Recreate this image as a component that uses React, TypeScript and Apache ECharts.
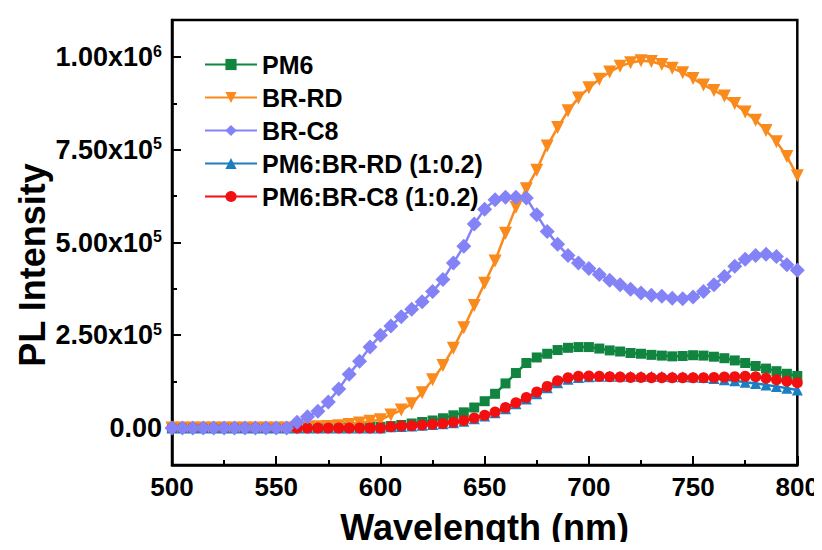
import React, { useEffect, useRef } from "react";
import * as echarts from "echarts";

const wavelengths = [
  500, 505, 510, 515, 520, 525, 530, 535, 540, 545,
  550, 555, 560, 565, 570, 575, 580, 585, 590, 595,
  600, 605, 610, 615, 620, 625, 630, 635, 640, 645,
  650, 655, 660, 665, 670, 675, 680, 685, 690, 695,
  700, 705, 710, 715, 720, 725, 730, 735, 740, 745,
  750, 755, 760, 765, 770, 775, 780, 785, 790, 795, 800,
];

// intensities in thousands of counts
const pm6 = [
  0, 0, 0, 0, 0, 0, 0, 0, 0, 0,
  0, 0, 0, 0, 1, 1, 1, 2, 2, 3,
  3, 5, 8, 12, 16, 20, 26, 34, 42, 55,
  72, 92, 120, 148, 175, 190, 200, 210, 216, 218,
  218, 214, 209, 206, 202, 200, 197, 195, 193, 194,
  196, 195, 192, 188, 182, 175, 167, 160, 153, 146, 140,
];
const brRD = [
  0, 0, 0, 0, 0, 0, 0, 0, 0, 0,
  0, 0, 0, 2, 3, 4, 6, 9, 13, 18,
  22, 35, 48, 65, 95, 130, 168, 215, 270, 330,
  390, 450, 525, 595, 645, 695, 760, 810, 855, 890,
  917, 940, 960, 975, 985, 990, 988, 980, 970, 958,
  942, 925, 910, 895, 875, 852, 830, 802, 772, 732, 680,
];
const brC8 = [
  0, 0, 0, 0, 0, 0, 0, 0, 0, 0,
  0, 0, 15, 30, 45, 70, 105, 145, 180, 218,
  250, 275, 300, 320, 340, 368, 400, 445, 490, 550,
  590, 615, 622, 622, 620, 575, 530, 495, 465, 445,
  430, 414, 398, 386, 374, 364, 358, 355, 350, 348,
  353, 368, 386, 408, 436, 455, 465, 468, 462, 440, 425,
];
const blendRD = [
  0, 0, 0, 0, 0, 0, 0, 0, 0, 0,
  0, 0, 0, 0, 0, 0, 0, 0, 0, 0,
  0, 3, 4, 5, 7, 9, 11, 14, 18, 25,
  32, 41, 52, 65, 78, 92, 108, 122, 131, 136,
  138, 139, 139, 139, 139, 139, 139, 139, 138, 138,
  137, 136, 133, 130, 127, 123, 120, 116, 112, 107, 102,
];
const blendC8 = [
  0, 0, 0, 0, 0, 0, 0, 0, 0, 0,
  0, 0, 0, 0, 0, 0, 0, 0, 0, 0,
  0, 3, 5, 6, 8, 10, 12, 15, 20, 27,
  34, 43, 55, 68, 82, 97, 112, 127, 135, 139,
  140, 139, 138, 137, 136, 136, 135, 135, 135, 135,
  135, 135, 136, 137, 138, 139, 138, 134, 130, 126, 122,
];

const yLabelValues = [0, 250000, 500000, 750000, 1000000];
const yMinorTicks = [125000, 375000, 625000, 875000];

const FONT = "Arial, 'Liberation Sans', Helvetica, sans-serif";

function pairs(vals: number[]) {
  return wavelengths.map((w, i) => [w, vals[i] * 1000]);
}

function yFormatter(v: number) {
  if (v === 0) return "0.00";
  const exp = Math.floor(Math.log10(v) + 1e-9);
  const m = v / Math.pow(10, exp);
  return m.toFixed(2) + "x10{sup|" + exp + "}";
}

export default function App() {
  const ref = useRef<HTMLDivElement>(null);
  useEffect(() => {
    if (!ref.current) return;
    const chart = echarts.init(ref.current, null, { renderer: "svg" });
    const mk = (name: string, data: number[], color: string, symbol: string, size: number, z: number, rotate = 0) => ({
      name,
      type: "line",
      data: pairs(data),
      symbol,
      symbolSize: size,
      symbolRotate: rotate,
      showSymbol: true,
      z,
      lineStyle: { color, width: 2.5 },
      itemStyle: { color, borderWidth: 0 },
    });
    chart.setOption({
      animation: false,
      backgroundColor: "#ffffff",
      textStyle: { fontFamily: FONT },
      grid: {
        left: 172, right: 23, top: 20, bottom: 70,
        show: true, borderColor: "#000", borderWidth: 2.5, backgroundColor: "transparent",
      },
      legend: {
        orient: "vertical",
        left: 199,
        top: 47,
        itemWidth: 52,
        itemHeight: 14,
        itemGap: 8,
        textStyle: { fontFamily: FONT, fontWeight: "bold", fontSize: 25, color: "#000" },
        data: ["PM6", "BR-RD", "BR-C8", "PM6:BR-RD (1:0.2)", "PM6:BR-C8 (1:0.2)"],
      },
      xAxis: {
        type: "value",
        min: 500,
        max: 800,
        interval: 50,
        name: "Wavelength (nm)",
        nameLocation: "middle",
        nameGap: 44,
        nameTextStyle: { fontFamily: FONT, fontWeight: "bold", fontSize: 36, color: "#000" },
        axisLine: { show: true, onZero: false, lineStyle: { color: "#000", width: 2.5 } },
        axisTick: { show: true, inside: true, length: 9, lineStyle: { color: "#000", width: 2 } },
        minorTick: { show: true, splitNumber: 2, length: 5, lineStyle: { color: "#000", width: 2 } },
        axisLabel: { fontFamily: FONT, fontWeight: "bold", fontSize: 26, color: "#000", margin: 9 },
        splitLine: { show: false },
        minorSplitLine: { show: false },
      },
      yAxis: [
        {
          type: "value",
          min: -100000,
          max: 1100000,
          axisLine: { show: true, onZero: false, lineStyle: { color: "#000", width: 2.5 } },
          axisTick: { show: true, inside: true, length: 9, customValues: yLabelValues, lineStyle: { color: "#000", width: 2 } },
          axisLabel: {
            customValues: yLabelValues,
            formatter: yFormatter,
            margin: 10,
            fontFamily: FONT,
            fontWeight: "bold",
            fontSize: 27,
            color: "#000",
            rich: {
              sup: { fontFamily: FONT, fontWeight: "bold", fontSize: 16, color: "#000", verticalAlign: "top", padding: [0, 0, 12, 0] },
            },
          },
          splitLine: { show: false },
        },
        {
          type: "value",
          min: -100000,
          max: 1100000,
          position: "left",
          axisLine: { show: false, onZero: false },
          axisTick: { show: true, inside: true, length: 5, customValues: yMinorTicks, lineStyle: { color: "#000", width: 2 } },
          axisLabel: { show: false },
          splitLine: { show: false },
        },
      ],
      graphic: [
        {
          type: "text",
          x: 32,
          y: 265,
          rotation: Math.PI / 2,
          style: {
            text: "PL Intensity",
            fontFamily: FONT,
            fontWeight: "bold",
            fontSize: 36,
            fill: "#000",
            textAlign: "center",
            textVerticalAlign: "middle",
          },
        },
      ],
      series: [
        mk("PM6", pm6, "#118540", "rect", 10, 2),
        mk("BR-RD", brRD, "#FA8A1C", "triangle", 13, 3, 180),
        mk("PM6:BR-RD (1:0.2)", blendRD, "#1C7EC2", "triangle", 11, 4),
        mk("PM6:BR-C8 (1:0.2)", blendC8, "#F20F0F", "circle", 11, 5),
        mk("BR-C8", brC8, "#8383F7", "diamond", 15, 6),
      ],
    });
    return () => chart.dispose();
  }, []);
  return <div ref={ref} style={{ width: 822, height: 550, margin: -8 }} />;
}
